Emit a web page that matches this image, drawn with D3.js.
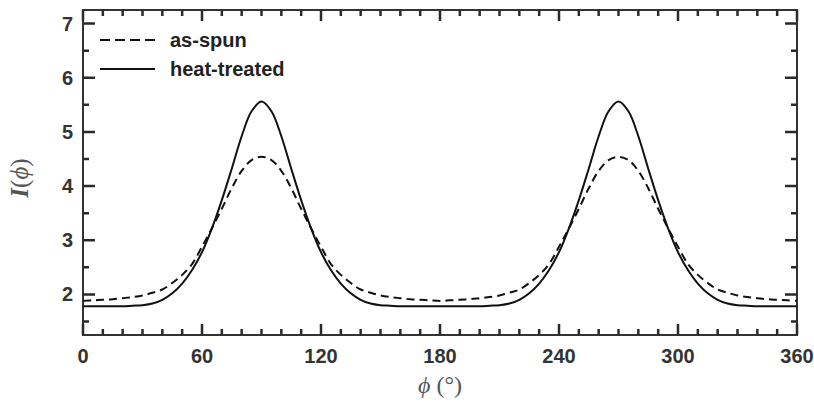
<!DOCTYPE html>
<html>
<head>
<meta charset="utf-8">
<script src="https://cdn.jsdelivr.net/npm/d3@7"></script>
<style>
  body { margin: 0; background: #fff; }
</style>
</head>
<body>
<script>
// angles, every 5 degrees
var phi = [0,5,10,15,20,25,30,35,40,45,50,55,60,65,70,75,80,85,90,95,100,105,110,115,120,125,130,135,140,145,150,155,160,165,170,175,
           180,185,190,195,200,205,210,215,220,225,230,235,240,245,250,255,260,265,270,275,280,285,290,295,300,305,310,315,320,325,330,335,340,345,350,355,360];

// as-spun (dashed)
var asSpun = [1.88,1.89,1.90,1.91,1.93,1.95,1.98,2.03,2.09,2.21,2.36,2.56,2.88,3.22,3.58,3.96,4.28,4.48,4.54,4.48,4.28,3.96,3.58,3.22,2.88,2.56,2.36,2.21,2.09,2.03,1.98,1.95,1.93,1.91,1.90,1.89,
              1.88,1.89,1.90,1.91,1.93,1.95,1.98,2.03,2.09,2.21,2.36,2.56,2.88,3.22,3.58,3.96,4.28,4.48,4.54,4.48,4.28,3.96,3.58,3.22,2.88,2.56,2.36,2.21,2.09,2.03,1.98,1.95,1.93,1.91,1.90,1.89,1.88];

// heat-treated (solid)
var heatTreated = [1.78,1.78,1.78,1.78,1.78,1.79,1.80,1.83,1.90,2.02,2.20,2.45,2.78,3.22,3.74,4.32,4.92,5.38,5.56,5.38,4.92,4.32,3.74,3.22,2.78,2.45,2.20,2.02,1.90,1.83,1.80,1.79,1.78,1.78,1.78,1.78,
                   1.78,1.78,1.78,1.78,1.78,1.79,1.80,1.83,1.90,2.02,2.20,2.45,2.78,3.22,3.74,4.32,4.92,5.38,5.56,5.38,4.92,4.32,3.74,3.22,2.78,2.45,2.20,2.02,1.90,1.83,1.80,1.79,1.78,1.78,1.78,1.78,1.78];

var xTicks = [0,60,120,180,240,300,360];
var yTicks = [2,3,4,5,6,7];
var legendNames = ["as-spun","heat-treated"];

var w = 814, h = 404;
var margin = {top: 10, right: 17, bottom: 69, left: 83};
var iw = w - margin.left - margin.right,
    ih = h - margin.top - margin.bottom;

var svg = d3.select("body").append("svg")
    .attr("width", w)
    .attr("height", h);

var g = svg.append("g")
    .attr("transform", "translate(" + margin.left + "," + margin.top + ")");

var x = d3.scaleLinear().domain([0, 360]).range([0, iw]);
var y = d3.scaleLinear().domain([1.25, 7.25]).range([ih, 0]);

var axisColor = "#333";
var tickFont = "Liberation Sans, Arial, sans-serif";

// frame
g.append("rect")
    .attr("width", iw).attr("height", ih)
    .attr("fill", "none")
    .attr("stroke", axisColor)
    .attr("stroke-width", 2);

// tick labels
g.selectAll("text.xl").data(xTicks).enter().append("text")
    .attr("class", "xl")
    .attr("x", function(d) { return x(d); })
    .attr("y", ih + 28)
    .attr("text-anchor", "middle")
    .attr("font-family", tickFont).attr("font-weight", "bold")
    .attr("font-size", 20).attr("fill", "#333")
    .text(function(d) { return d; });

g.selectAll("text.yl").data(yTicks).enter().append("text")
    .attr("class", "yl")
    .attr("x", -10)
    .attr("y", function(d) { return y(d) + 7; })
    .attr("text-anchor", "end")
    .attr("font-family", tickFont).attr("font-weight", "bold")
    .attr("font-size", 20).attr("fill", "#333")
    .text(function(d) { return d; });

var line = d3.line().curve(d3.curveCatmullRom.alpha(0.5));

g.append("path")
    .attr("d", line(phi.map(function(p, i) { return [x(p), y(asSpun[i])]; })))
    .attr("fill", "none").attr("stroke", "#111")
    .attr("stroke-width", 2).attr("stroke-dasharray", "8,5");

g.append("path")
    .attr("d", line(phi.map(function(p, i) { return [x(p), y(heatTreated[i])]; })))
    .attr("fill", "none").attr("stroke", "#111")
    .attr("stroke-width", 2);

// tick marks point inward on all four sides (drawn last)
var xMinor = d3.range(10, 360, 10).filter(function(d) { return d % 60 !== 0; });
var yMinor = [1.5, 2.5, 3.5, 4.5, 5.5, 6.5];

var tickPath = "";
xMinor.forEach(function(v) {
    tickPath += "M" + x(v) + "," + ih + "V" + (ih - 6) + "M" + x(v) + ",0V6";
});
xTicks.forEach(function(v) {
    tickPath += "M" + x(v) + "," + ih + "V" + (ih - 11) + "M" + x(v) + ",0V11";
});
yMinor.forEach(function(v) {
    tickPath += "M0," + y(v) + "H6M" + iw + "," + y(v) + "H" + (iw - 6);
});
yTicks.forEach(function(v) {
    tickPath += "M0," + y(v) + "H12M" + iw + "," + y(v) + "H" + (iw - 12);
});

g.append("path")
    .attr("d", tickPath)
    .attr("fill", "none")
    .attr("stroke", "#2a2a2a")
    .attr("stroke-width", 2.5);

// legend
var legend = svg.append("g").attr("transform", "translate(100,40)");
legend.append("line").attr("x1", 0).attr("x2", 55).attr("y1", 0).attr("y2", 0)
    .attr("stroke", "#111").attr("stroke-width", 2).attr("stroke-dasharray", "10,5");
legend.append("line").attr("x1", 0).attr("x2", 55).attr("y1", 29).attr("y2", 29)
    .attr("stroke", "#111").attr("stroke-width", 2);
legend.selectAll("text.leg").data(legendNames).enter().append("text")
    .attr("class", "leg")
    .attr("x", 70).attr("y", function(d, i) { return 7 + i * 29; })
    .attr("font-family", tickFont)
    .attr("font-weight", "bold").attr("font-size", 20).attr("fill", "#222")
    .text(function(d) { return d; });

// axis titles
var xt = svg.append("text")
    .attr("x", margin.left + iw / 2).attr("y", 393)
    .attr("text-anchor", "middle")
    .attr("font-family", "Liberation Serif, serif").attr("font-size", 24).attr("fill", "#555");
xt.append("tspan").attr("font-style", "italic").text("\u03d5");
xt.append("tspan").text(" (\u00b0)");

var yt = svg.append("text")
    .attr("transform", "translate(28,178) rotate(-90)")
    .attr("text-anchor", "middle")
    .attr("font-family", "Liberation Serif, serif").attr("font-size", 25).attr("fill", "#555");
yt.append("tspan").attr("font-style", "italic").attr("font-weight", "bold").text("I");
yt.append("tspan").text("(");
yt.append("tspan").attr("font-style", "italic").text("\u03d5");
yt.append("tspan").text(")");
</script>
</body>
</html>
